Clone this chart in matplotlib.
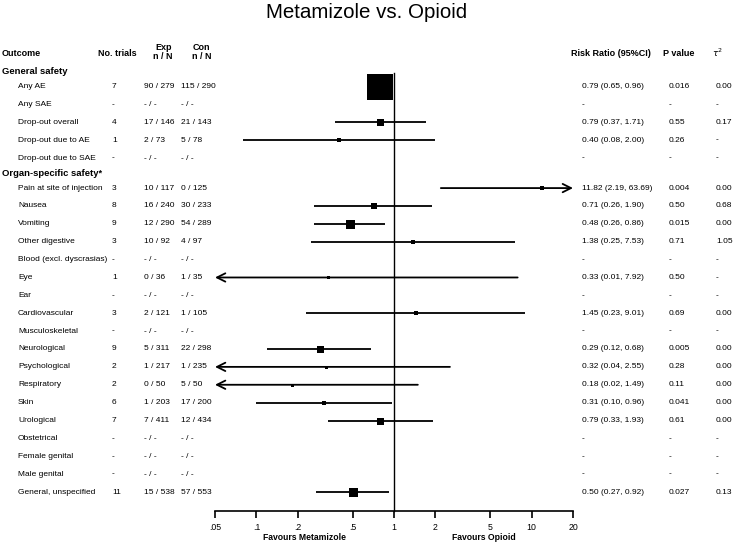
import numpy as np
import matplotlib
matplotlib.use('Agg')
import matplotlib.pyplot as plt
from matplotlib import transforms

plt.rcParams['font.family'] = ['Liberation Sans', 'DejaVu Sans']

nan = np.nan

# General safety section
general_outcomes = ['Any AE', 'Any SAE', 'Drop-out overall', 'Drop-out due to AE', 'Drop-out due to SAE']
general_trials = ['7', '-', '4', '1', '-']
general_exp = ['90 / 279', '- / -', '17 / 146', '2 / 73', '- / -']
general_con = ['115 / 290', '- / -', '21 / 143', '5 / 78', '- / -']
general_rr = [0.79, nan, 0.79, 0.40, nan]
general_lo = [0.65, nan, 0.37, 0.08, nan]
general_hi = [0.96, nan, 1.71, 2.00, nan]
general_p = ['0.016', '-', '0.55', '0.26', '-']
general_tau = ['0.00', '-', '0.17', '-', '-']
general_box = [26, 0, 7, 4, 0]

# Organ-specific safety section
organ_outcomes = ['Pain at site of injection', 'Nausea', 'Vomiting', 'Other digestive',
                  'Blood (excl. dyscrasias)', 'Eye', 'Ear', 'Cardiovascular', 'Musculoskeletal',
                  'Neurological', 'Psychological', 'Respiratory', 'Skin', 'Urological',
                  'Obstetrical', 'Female genital', 'Male genital', 'General, unspecified']
organ_trials = ['3', '8', '9', '3', '-', '1', '-', '3', '-', '9', '2', '2', '6', '7', '-', '-', '-', '11']
organ_exp = ['10 / 117', '16 / 240', '12 / 290', '10 / 92', '- / -', '0 / 36', '- / -', '2 / 121', '- / -',
             '5 / 311', '1 / 217', '0 / 50', '1 / 203', '7 / 411', '- / -', '- / -', '- / -', '15 / 538']
organ_con = ['0 / 125', '30 / 233', '54 / 289', '4 / 97', '- / -', '1 / 35', '- / -', '1 / 105', '- / -',
             '22 / 298', '1 / 235', '5 / 50', '17 / 200', '12 / 434', '- / -', '- / -', '- / -', '57 / 553']
organ_rr = [11.82, 0.71, 0.48, 1.38, nan, 0.33, nan, 1.45, nan, 0.29, 0.32, 0.18, 0.31, 0.79, nan, nan, nan, 0.50]
organ_lo = [2.19, 0.26, 0.26, 0.25, nan, 0.01, nan, 0.23, nan, 0.12, 0.04, 0.02, 0.10, 0.33, nan, nan, nan, 0.27]
organ_hi = [63.69, 1.90, 0.86, 7.53, nan, 7.92, nan, 9.01, nan, 0.68, 2.55, 1.49, 0.96, 1.93, nan, nan, nan, 0.92]
organ_p = ['0.004', '0.50', '0.015', '0.71', '-', '0.50', '-', '0.69', '-', '0.005', '0.28', '0.11',
           '0.041', '0.61', '-', '-', '-', '0.027']
organ_tau = ['0.00', '0.68', '0.00', '1.05', '-', '-', '-', '0.00', '-', '0.00', '0.00', '0.00',
             '0.00', '0.00', '-', '-', '-', '0.13']
organ_box = [4, 6, 9, 4, 0, 3, 0, 4, 0, 7, 3, 3, 5, 7, 0, 0, 0, 9]

tick_values = [0.05, 0.1, 0.2, 0.5, 1, 2, 5, 10, 20]
tick_labels = ['.05', '.1', '.2', '.5', '1', '2', '5', '10', '20']

W, H = 733, 550
XMIN, XMAX = 0.05, 20
FS = 6.0


def fx(px):
    return px / W


def fy(py):
    return 1 - py / H


def draw_row(ax, trans, y, name, trials, exp, con, rr, lo, hi, p, tau, box):
    ax.text(fx(18), y, name, transform=trans, fontsize=FS, va='center', ha='left')
    ax.text(fx(112), y, trials, transform=trans, fontsize=FS, va='center', ha='left')
    ax.text(fx(144), y, exp, transform=trans, fontsize=FS, va='center', ha='left')
    ax.text(fx(181), y, con, transform=trans, fontsize=FS, va='center', ha='left')
    if np.isnan(rr):
        rr_txt = '-'
    else:
        rr_txt = f"{rr:.2f} ({lo:.2f}, {hi:.2f})"
    ax.text(fx(582), y, rr_txt, transform=trans, fontsize=FS, va='center', ha='left')
    ax.text(fx(669), y, p, transform=trans, fontsize=FS, va='center', ha='left')
    ax.text(fx(716), y, tau, transform=trans, fontsize=FS, va='center', ha='left')

    if np.isnan(rr):
        return
    left = max(lo, XMIN)
    right = min(hi, XMAX)
    arrow = dict(arrowstyle='->', lw=1.3, color='k', shrinkA=0, shrinkB=0, mutation_scale=15)
    if lo < XMIN:
        ax.annotate('', xy=(XMIN, y), xytext=(right, y), arrowprops=arrow)
    elif hi > XMAX:
        ax.annotate('', xy=(XMAX, y), xytext=(left, y), arrowprops=arrow)
    else:
        ax.plot([left, right], [y, y], color='k', lw=1.3, solid_capstyle='butt')
    ax.plot(rr, y, marker='s', ms=box * 0.72, color='k', mew=0, zorder=3)


def main():
    fig = plt.figure(figsize=(W / 100, H / 100), dpi=100)

    # forest panel, rows measured in row units from the "General safety" header
    row_px = 17.88
    top_px, bottom_px = 62, 511
    y_top = (top_px - 71.5) / row_px
    y_bottom = (bottom_px - 71.5) / row_px
    ax = fig.add_axes([fx(215), fy(bottom_px), (573 - 215) / W, (bottom_px - top_px) / H])
    ax.set_xscale('log')
    ax.set_xlim(XMIN, XMAX)
    ax.set_ylim(y_bottom, y_top)
    for side in ['top', 'left', 'right']:
        ax.spines[side].set_visible(False)
    ax.spines['bottom'].set_linewidth(1.2)
    ax.set_yticks([])
    ax.set_xticks(tick_values)
    ax.set_xticklabels(tick_labels)
    ax.minorticks_off()
    ax.tick_params(axis='x', direction='out', length=5, width=1.2, labelsize=6.3, pad=4)
    ax.set_facecolor('none')

    trans = transforms.blended_transform_factory(fig.transFigure, ax.transData)

    # line of no effect
    ax.plot([1, 1], [(73 - 71.5) / row_px, y_bottom], color='k', lw=1, clip_on=False)

    # column headers
    hy = (53 - 71.5) / row_px
    bold = dict(transform=trans, fontsize=6.5, fontweight='bold', va='center')
    ax.text(fx(2), hy, 'Outcome', ha='left', **bold)
    ax.text(fx(117), hy, 'No. trials', ha='center', **bold)
    ax.text(fx(164), hy - 0.33, 'Exp', ha='center', **bold)
    ax.text(fx(163), hy + 0.2, 'n / N', ha='center', **bold)
    ax.text(fx(201), hy - 0.33, 'Con', ha='center', **bold)
    ax.text(fx(202), hy + 0.2, 'n / N', ha='center', **bold)
    ax.text(fx(611), hy, 'Risk Ratio (95%CI)', ha='center', **bold)
    ax.text(fx(679), hy, 'P value', ha='center', **bold)
    ax.text(fx(718), hy, r'$\tau^2$', transform=trans, fontsize=6.5, va='center', ha='center')

    # General safety
    ax.text(fx(2), 0, 'General safety', transform=trans, fontsize=6.8, fontweight='bold',
            va='center', ha='left')
    for k in range(len(general_outcomes)):
        draw_row(ax, trans, 0.84 + k, general_outcomes[k], general_trials[k], general_exp[k],
                 general_con[k], general_rr[k], general_lo[k], general_hi[k], general_p[k],
                 general_tau[k], general_box[k])

    # Organ-specific safety
    ax.text(fx(2), 5.68, 'Organ-specific safety*', transform=trans, fontsize=6.8, fontweight='bold',
            va='center', ha='left')
    for k in range(len(organ_outcomes)):
        draw_row(ax, trans, 6.52 + k, organ_outcomes[k], organ_trials[k], organ_exp[k],
                 organ_con[k], organ_rr[k], organ_lo[k], organ_hi[k], organ_p[k],
                 organ_tau[k], organ_box[k])

    # favours labels
    ftrans = transforms.blended_transform_factory(ax.transData, fig.transFigure)
    ax.text(np.sqrt(XMIN), fy(538), 'Favours Metamizole', transform=ftrans, fontsize=6.2,
            fontweight='bold', ha='center', va='center')
    ax.text(np.sqrt(XMAX), fy(538), 'Favours Opioid', transform=ftrans, fontsize=6.2,
            fontweight='bold', ha='center', va='center')

    fig.text(0.5, fy(12), 'Metamizole vs. Opioid', fontsize=14.8, ha='center', va='center')

    fig.savefig('out.png', dpi=100, facecolor='white')
    plt.close(fig)


if __name__ == "__main__":
    main()
